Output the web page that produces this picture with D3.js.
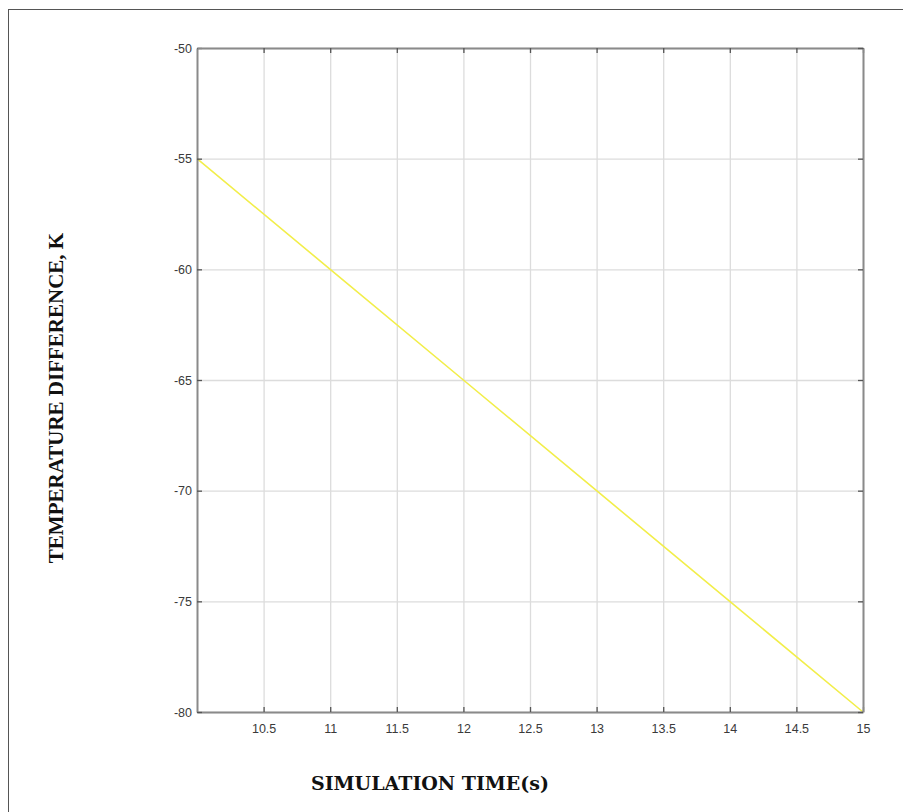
<!DOCTYPE html>
<html>
<head>
<meta charset="utf-8">
<script src="https://cdn.jsdelivr.net/npm/d3@7"></script>
<style>
  body { margin: 0; background: #fff; }
  svg { display: block; }
</style>
</head>
<body>
<div id="chart"></div>
<script>
// values
var simTime = [10, 11, 12, 13, 14, 15];
var tempDiff = [-55, -60, -65, -70, -75, -80];
var xTicks = [10.5, 11, 11.5, 12, 12.5, 13, 13.5, 14, 14.5, 15];
var yTicks = [-80, -75, -70, -65, -60, -55, -50];

var svgWidth = 903, svgHeight = 812;
var margin = { top: 48, right: 40, bottom: 100, left: 197 };
var width = 863 - margin.left;
var height = 712 - margin.top;

var svg = d3.select("#chart").append("svg")
  .attr("width", svgWidth)
  .attr("height", svgHeight);

// outer frame
svg.append("rect")
  .attr("x", 8.5).attr("y", 9.5)
  .attr("width", svgWidth).attr("height", svgHeight)
  .attr("fill", "none")
  .attr("stroke", "#555")
  .attr("stroke-width", 1);

var chartGroup = svg.append("g")
  .attr("transform", `translate(${margin.left}, ${margin.top})`);

var xScale = d3.scaleLinear().domain([10, 15]).range([0, width]);
var yScale = d3.scaleLinear().domain([-80, -50]).range([height, 0]);

// plain number labels like the original (hyphen minus, no trailing .0)
var plainFormat = d => String(d);

// grid lines
chartGroup.append("g")
  .attr("transform", `translate(0, ${height})`)
  .call(d3.axisBottom(xScale).tickValues(xTicks).tickSize(-height).tickFormat(""))
  .call(g => g.select(".domain").remove())
  .call(g => g.selectAll("line").attr("stroke", "#dcdcdc").attr("stroke-width", 1.3));

chartGroup.append("g")
  .call(d3.axisLeft(yScale).tickValues(yTicks).tickSize(-width).tickFormat(""))
  .call(g => g.select(".domain").remove())
  .call(g => g.selectAll("line").attr("stroke", "#dcdcdc").attr("stroke-width", 1.3));

// data line
var line = d3.line()
  .x((d, i) => xScale(simTime[i]))
  .y(d => yScale(d));

chartGroup.append("path")
  .datum(tempDiff)
  .attr("d", line)
  .attr("fill", "none")
  .attr("stroke", "#f2ee4a")
  .attr("stroke-width", 1.6);

// axes with inward ticks
var bottomAxis = d3.axisBottom(xScale).tickValues(xTicks).tickFormat(plainFormat)
  .tickSizeInner(-5).tickSizeOuter(0).tickPadding(12);
var leftAxis = d3.axisLeft(yScale).tickValues(yTicks).tickFormat(plainFormat)
  .tickSizeInner(-5).tickSizeOuter(0).tickPadding(5);
var topAxis = d3.axisTop(xScale).tickValues(xTicks).tickSizeInner(-5).tickSizeOuter(0).tickFormat("");
var rightAxis = d3.axisRight(yScale).tickValues(yTicks).tickSizeInner(-5).tickSizeOuter(0).tickFormat("");

function styleAxis(g) {
  g.select(".domain").attr("stroke", "#8a8a8a").attr("stroke-width", 2);
  g.selectAll(".tick line").attr("stroke", "#555").attr("stroke-width", 1.3);
  g.selectAll(".tick text")
    .attr("fill", "#3a3a3a")
    .style("font-family", "'Liberation Sans', Arial, sans-serif")
    .style("font-size", "12.5px");
}

chartGroup.append("g").attr("transform", `translate(0, ${height})`).call(bottomAxis).call(styleAxis);
chartGroup.append("g").call(leftAxis).call(styleAxis);
chartGroup.append("g").call(topAxis).call(styleAxis);
chartGroup.append("g").attr("transform", `translate(${width}, 0)`).call(rightAxis).call(styleAxis);

// axis labels
svg.append("text")
  .attr("transform", "translate(63, 398) rotate(-90)")
  .attr("text-anchor", "middle")
  .style("font-family", "'Liberation Serif', 'Times New Roman', serif")
  .style("font-weight", "bold")
  .style("font-size", "21px")
  .attr("fill", "#111")
  .text("TEMPERATURE DIFFERENCE, K");

svg.append("text")
  .attr("x", 430)
  .attr("y", 790)
  .attr("text-anchor", "middle")
  .style("font-family", "'DejaVu Serif', serif")
  .style("font-weight", "bold")
  .style("font-size", "19px")
  .attr("fill", "#111")
  .text("SIMULATION TIME(s)");
</script>
</body>
</html>
